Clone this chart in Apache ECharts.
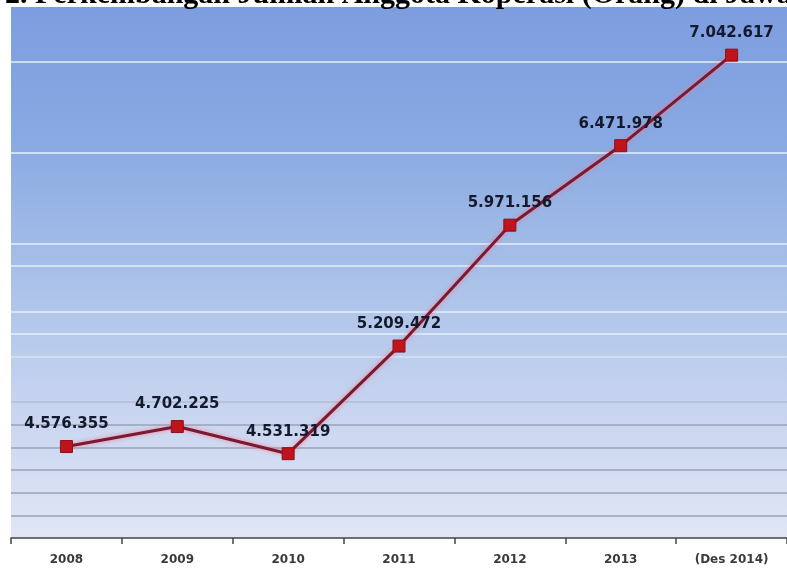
<!DOCTYPE html>
<html>
<head>
<meta charset="utf-8">
<script src="https://cdn.jsdelivr.net/npm/echarts@6/dist/echarts.min.js"></script>
<style>
  html, body { margin: 0; padding: 0; background: #ffffff; }
  #chart { width: 787px; height: 572px; }
</style>
</head>
<body>
<div id="chart"></div>
<script>
// Jumlah anggota koperasi per tahun (orang)
const categories = ['2008', '2009', '2010', '2011', '2012', '2013', '(Des 2014)'];
const members = [4576355, 4702225, 4531319, 5209472, 5971156, 6471978, 7042617];

// Value axis range and gridline spacing
const axisMin = 4000000;
const axisMax = 7346000;
const gridStep = 3000000 / 21;

const chart = echarts.init(document.getElementById('chart'), null, { renderer: 'canvas' });

// Gridline colours, one per tick counted from the bottom of the axis
const none = 'rgba(0,0,0,0)';
const grey = '#9aa3b6';
const pale = '#e4f0fa';
const gridColors = [
  none, grey, grey, grey, grey, grey, 'rgba(150,160,182,0.45)', none,
  '#d6e2f2', pale, pale, none, pale, pale, none, none, none, pale,
  none, none, none, pale, none, none, none
];

function formatThousands(v) {
  return String(v).replace(/\B(?=(\d{3})+(?!\d))/g, '.');
}

chart.setOption({
  animation: false,
  backgroundColor: '#ffffff',
  graphic: [{
    type: 'text',
    left: 5,
    top: -20,
    style: {
      text: '2. Perkembangan Jumlah Anggota Koperasi (Orang) di Jawa Timur',
      font: 'bold 30px "Liberation Serif", "Times New Roman", serif',
      fill: '#000000'
    },
    z: 10
  }],
  grid: {
    left: 11,
    right: -7,
    top: 7,
    bottom: 34,
    show: true,
    borderWidth: 0,
    backgroundColor: new echarts.graphic.LinearGradient(0, 0, 0, 1, [
      { offset: 0, color: '#7d9de0' },
      { offset: 0.25, color: '#88a9e2' },
      { offset: 0.5, color: '#a8c0e8' },
      { offset: 0.75, color: '#c7d4f0' },
      { offset: 1, color: '#e0e6f5' }
    ])
  },
  xAxis: {
    type: 'category',
    data: categories,
    boundaryGap: true,
    axisLine: { show: true, lineStyle: { color: '#444444', width: 1.5 } },
    axisTick: { show: true, alignWithLabel: false, length: 6, lineStyle: { color: '#444444', width: 1.5 } },
    axisLabel: {
      margin: 16,
      color: '#3a3a3a',
      fontSize: 12,
      fontWeight: 'bold',
      fontFamily: '"DejaVu Sans", Verdana, sans-serif'
    },
    splitLine: { show: false }
  },
  yAxis: {
    type: 'value',
    min: axisMin,
    max: axisMax,
    interval: gridStep,
    axisLine: { show: false },
    axisTick: { show: false },
    axisLabel: { show: false },
    splitLine: {
      show: true,
      lineStyle: { color: gridColors, width: 1.5 }
    }
  },
  series: [{
    type: 'line',
    data: members,
    symbol: 'rect',
    symbolSize: 12,
    itemStyle: { color: '#c0141c', borderColor: '#8e0f18', borderWidth: 1 },
    lineStyle: {
      color: '#7a1a32',
      width: 3,
      shadowColor: 'rgba(245,120,140,0.9)',
      shadowBlur: 4
    },
    label: {
      show: true,
      position: 'top',
      distance: 8,
      formatter: function (p) { return formatThousands(p.value); },
      color: '#141a2c',
      fontSize: 15,
      fontWeight: 'bold',
      fontFamily: '"DejaVu Sans", Verdana, sans-serif'
    },
    z: 5
  }]
});
</script>
</body>
</html>
